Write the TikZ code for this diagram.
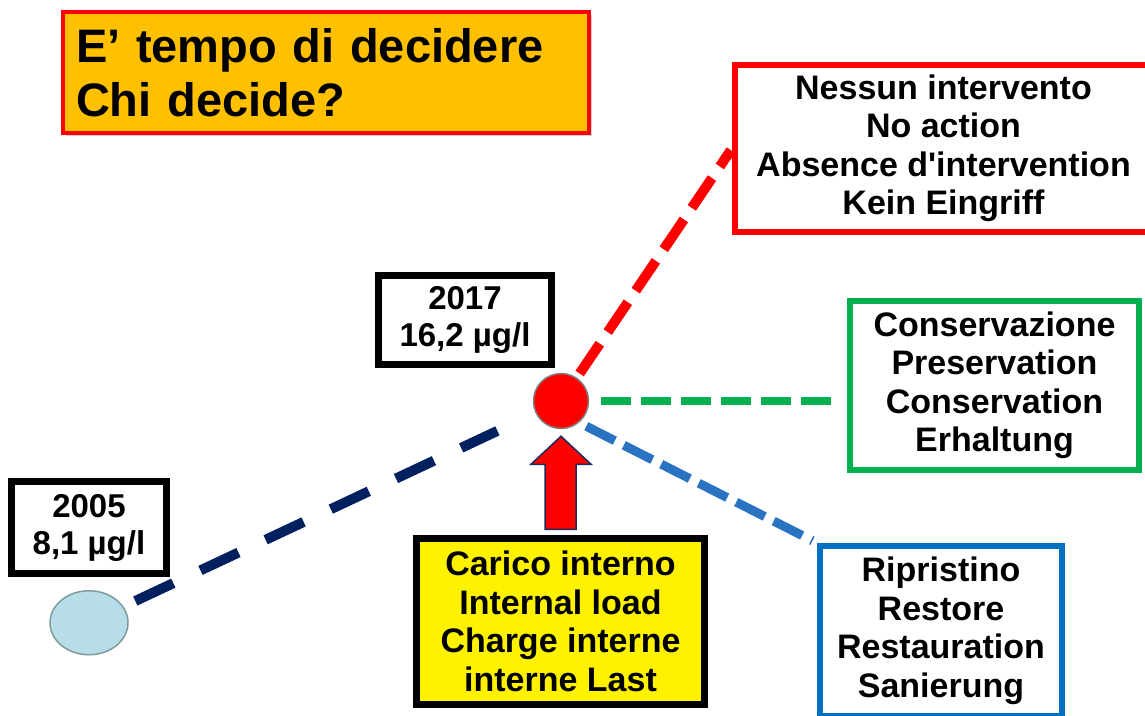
\documentclass[tikz,border=0pt]{standalone}
\usepackage{fontspec}
\setmainfont{Liberation Sans}
\usetikzlibrary{positioning, calc, shapes.geometric, shadows}

\definecolor{titleorange}{HTML}{FFC000}
\definecolor{boxred}{HTML}{FF0000}
\definecolor{boxgreen}{HTML}{00B050}
\definecolor{boxblue}{HTML}{0070C0}
\definecolor{linenavy}{HTML}{002060}
\definecolor{lineblue}{HTML}{2A72C2}
\definecolor{lakeblue}{HTML}{B7DEE8}
\definecolor{lakeedge}{HTML}{7F9A9C}
\definecolor{arrowedge}{HTML}{1F2A5C}

\begin{document}
\begin{tikzpicture}[x=1pt, y=-1pt,
	txt/.style={font=\fontsize{34}{38.5}\selectfont\bfseries, align=center, inner sep=0pt},
	option/.style={txt, rectangle, draw, fill=white, line width=6pt},
	yearbox/.style={txt, rectangle, draw=black, fill=white, line width=7pt, font=\fontsize{33}{37}\selectfont\bfseries}
]
	\useasboundingbox (0,0) rectangle (1145,715);
	\node[rectangle, draw=boxred, fill=titleorange, line width=4pt, drop shadow={opacity=0.35, shadow xshift=3pt, shadow yshift=-3pt}, text width=500pt, inner xsep=13pt, minimum height=121pt, align=left, font=\fontsize{47}{54}\selectfont\bfseries] (title) at (326,72.5) {E’ tempo di decidere\\Chi decide?};
	\node[option, draw=boxred, minimum width=417pt, minimum height=167pt] (none) at (943.5,148.5) {Nessun intervento\\No action\\Absence d\textquotesingle intervention\\Kein Eingriff};
	\node[option, draw=boxgreen, minimum width=289pt, minimum height=169pt] (keep) at (994.5,385.5) {Conservazione\\Preservation\\Conservation\\Erhaltung};
	\node[option, draw=boxblue, minimum width=242pt, minimum height=170pt] (restore) at (941,631) {Ripristino\\Restore\\Restauration\\Sanierung};
	\node[option, draw=black, fill=yellow, line width=7pt, minimum width=288pt, minimum height=166pt] (load) at (560.5,621.5) {Carico interno\\Internal load\\Charge interne\\interne Last};
	\node[yearbox, minimum width=173pt, minimum height=89pt] (y2017) at (465,320) {2017\\16,2 µg/l};
	\node[yearbox, minimum width=155pt, minimum height=92pt] (y2005) at (89,527.5) {2005\\8,1 µg/l};
	\node[circle, fill=red, draw=gray, line width=1.5pt, minimum size=55pt, inner sep=0pt] (now) at (561,401) {};
	\node[ellipse, fill=lakeblue, draw=lakeedge, line width=1.5pt, minimum width=78pt, minimum height=64pt, inner sep=0pt, below=13pt of y2005] (past) {};
	\draw[linenavy, line width=10pt, dash pattern=on 42pt off 30pt, shorten <=13pt, shorten >=42pt] (past) -- (now);
	\draw[red, line width=10pt, dash pattern=on 36pt off 14pt, shorten <=5pt, shorten >=2pt] (now) -- (none.west);
	\draw[boxgreen, line width=8pt, dash pattern=on 30pt off 10pt, shorten <=12pt, shorten >=15pt] (now.east) -- (now.east -| keep.west);
	\draw[lineblue, line width=9pt, dash pattern=on 32pt off 10pt, shorten <=8pt, shorten >=5pt] (now.-50) -- (restore.north west);
	\draw[arrowedge, fill=red, line width=1.5pt] ([yshift=-7pt]now.south) -- ++(30,28) -- ++(-15,0) -- ++(0,65) -- ++(-31,0) -- ++(0,-65) -- ++(-14,0) -- cycle;
\end{tikzpicture}
\end{document}
